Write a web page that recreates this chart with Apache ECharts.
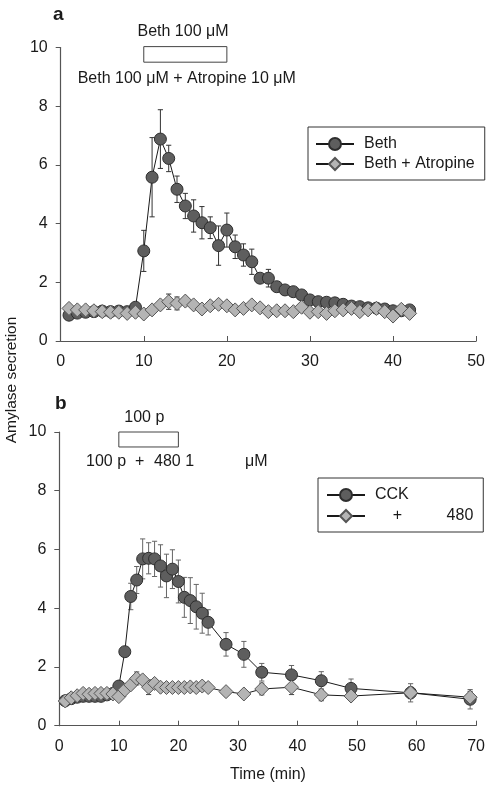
<!DOCTYPE html>
<html><head><meta charset="utf-8">
<script src="https://cdn.jsdelivr.net/npm/echarts@6/dist/echarts.min.js"></script>
<style>html,body{margin:0;padding:0;background:#fff}#c{width:488px;height:785px}</style>
</head><body><div id="c"></div>
<script>
// Panel a
const timeA = [1,2,3,4,5,6,7,8,9,10,11,12,13,14,15,16,17,18,19,20,21,22,23,24,25,26,27,28,29,30,31,32,33,34,35,36,37,38,39,40,41,42];
const bethVals = [0.88,0.95,0.98,1.0,1.02,1.0,1.02,1.0,1.15,3.07,5.58,6.88,6.22,5.17,4.6,4.26,4.03,3.86,3.25,3.78,3.21,2.93,2.7,2.14,2.14,1.85,1.74,1.68,1.57,1.4,1.34,1.32,1.3,1.25,1.19,1.17,1.13,1.12,1.09,1.03,1.03,1.06];
const bethErr = [0,0,0,0,0,0,0,0,0,0.7,1.35,1.0,0.45,0.45,0.43,0.55,0.55,0.37,0.67,0.58,0.4,0.38,0.43,0.1,0.3,0,0,0,0,0,0,0,0,0,0,0,0,0,0,0,0,0];
const atroVals = [1.11,1.06,1.06,1.03,1.0,0.98,0.98,0.94,0.98,0.92,1.06,1.23,1.34,1.28,1.36,1.23,1.09,1.2,1.25,1.2,1.06,1.11,1.23,1.13,1.0,1.03,1.03,1.0,1.15,0.98,1.0,0.94,1.03,1.06,1.11,1.0,1.06,1.11,1.0,0.85,1.08,0.94];
const atroErr = [0,0,0,0,0,0,0,0,0,0,0,0,0.26,0.22,0,0,0,0,0,0,0,0,0,0,0,0,0,0,0,0,0,0,0,0,0,0,0,0,0,0,0,0];
// Panel b
const timeB = [1,2,3,4,5,6,7,8,9,10,11,12,13,14,15,16,17,18,19,20,21,22,23,24,25,28,31,34,39,44,49,59,69];
const cckVals = [0.85,0.92,0.97,1.0,1.0,1.0,1.0,1.05,1.1,1.35,2.52,4.4,4.96,5.68,5.7,5.68,5.44,5.1,5.33,4.91,4.37,4.26,4.05,3.83,3.52,2.77,2.43,1.82,1.73,1.53,1.27,1.12,0.9];
const cckErr = [0,0,0,0,0,0,0,0,0,0,0,0.45,0.46,0.68,0.53,0.6,0.72,0.74,0.66,0.73,0.68,0.78,0.76,0.68,0.43,0.4,0.44,0.3,0.32,0.31,0.32,0.31,0.33];
const antVals = [0.84,0.95,1.02,1.1,1.07,1.1,1.1,1.1,1.08,0.99,1.22,1.39,1.61,1.56,1.31,1.44,1.31,1.3,1.3,1.3,1.3,1.32,1.3,1.35,1.3,1.16,1.08,1.25,1.31,1.05,1.01,1.12,0.97];
const antErr = [0,0,0,0,0,0,0,0,0,0,0,0,0.22,0,0.25,0,0,0,0,0,0,0,0,0,0,0,0,0.2,0.25,0.2,0.1,0.2,0.2];
// labels
const nameA1 = 'Beth', nameA2 = 'Beth + Atropine';
const nameB1 = 'CCK', nameB2 = '    +          480';
const yTicks = [0,2,4,6,8,10];

const FONT = 'Liberation Sans, Arial, sans-serif';
const pairs = (xs, ys) => xs.map((x,i)=>[x, ys[i]]);
const triples = (xs, ys, es) => xs.map((x,i)=>[x, ys[i], es[i]]);

function errSeries(xi, data, color){
  return {
    type:'custom', xAxisIndex:xi, yAxisIndex:xi, z:1, silent:true,
    encode:{x:0,y:1},
    data:data,
    renderItem:function(params, api){
      const x=api.value(0), y=api.value(1), e=api.value(2);
      if(!e) return null;
      const t=api.coord([x,y+e]), b=api.coord([x,y-e]);
      const hw=2.6, st={stroke:color,lineWidth:1};
      return {type:'group',children:[
        {type:'line',shape:{x1:t[0],y1:t[1],x2:b[0],y2:b[1]},style:st},
        {type:'line',shape:{x1:t[0]-hw,y1:t[1],x2:t[0]+hw,y2:t[1]},style:st},
        {type:'line',shape:{x1:b[0]-hw,y1:b[1],x2:b[0]+hw,y2:b[1]},style:st}
      ]};
    }
  };
}
function lineSeries(name, xi, data, symbol, fill, border, size){
  return {
    name:name, type:'line', xAxisIndex:xi, yAxisIndex:xi, z:3,
    data:data, symbol:symbol, symbolSize:size, showAllSymbol:true,
    lineStyle:{color:'#1a1a1a',width:1},
    itemStyle:{color:fill,borderColor:border,borderWidth:1},
    emphasis:{disabled:true}, animation:false
  };
}
const axisCommon = {
  axisLine:{lineStyle:{color:'#555',width:1.2}},
  axisLabel:{color:'#1a1a1a',fontSize:16,fontFamily:FONT,margin:13},
  splitLine:{show:false}
};
function xAx(gi, max){
  return Object.assign({}, axisCommon, {type:'value',gridIndex:gi,min:0,max:max,interval:10,
    axisTick:{show:true,inside:true,length:5,lineStyle:{color:'#555'}}});
}
function yAx(gi){
  return Object.assign({}, axisCommon, {type:'value',gridIndex:gi,min:yTicks[0],max:yTicks[yTicks.length-1],interval:2,
    axisTick:{show:true,inside:false,length:5,lineStyle:{color:'#555'}}});
}
const legendCommon = {
  orient:'vertical', borderColor:'#333', borderWidth:1, itemWidth:38, itemHeight:15, itemGap:4,
  textStyle:{fontSize:16,fontFamily:FONT,color:'#1a1a1a',lineHeight:16,padding:[0,0,0,5]},
  selectedMode:false, backgroundColor:'#fff'
};

const chart = echarts.init(document.getElementById('c'), null, {renderer:'canvas'});
const option = {
  animation:false,
  grid:[
    {left:60.7, top:47.5, width:417.3, height:293.5},
    {left:59.3, top:432, width:418.7, height:293.7}
  ],
  xAxis:[xAx(0,50), xAx(1,70)],
  yAxis:[yAx(0), yAx(1)],
  legend:[
    Object.assign({}, legendCommon, {data:[nameA1,nameA2], left:308, top:127, padding:[9,10,8,7]}),
    Object.assign({}, legendCommon, {data:[nameB1,nameB2], left:318, top:478, padding:[9,10,8,8], itemGap:5})
  ],
  series:[
    errSeries(0, triples(timeA,bethVals,bethErr), '#333'),
    errSeries(0, triples(timeA,atroVals,atroErr), '#333'),
    lineSeries(nameA1, 0, pairs(timeA,bethVals), 'circle', '#5e5e5e', '#2e2e2e', 12),
    lineSeries(nameA2, 0, pairs(timeA,atroVals), 'diamond', '#b4b4b4', '#555', 14),
    errSeries(1, triples(timeB,cckVals,cckErr), '#666'),
    errSeries(1, triples(timeB,antVals,antErr), '#444'),
    lineSeries(nameB1, 1, pairs(timeB,cckVals), 'circle', '#5e5e5e', '#2e2e2e', 12),
    lineSeries(nameB2, 1, pairs(timeB,antVals), 'diamond', '#b4b4b4', '#555', 14)
  ]
};
chart.setOption(option);

const a1 = chart.convertToPixel({gridIndex:0},[10,10.03]);
const a2 = chart.convertToPixel({gridIndex:0},[20,9.5]);
const b1 = chart.convertToPixel({gridIndex:1},[10,10.0]);
const b2 = chart.convertToPixel({gridIndex:1},[20,9.49]);
const txt = (x,y,text,extra)=>Object.assign({type:'text',x:x,y:y,style:Object.assign({text:text,fontSize:16,fontFamily:FONT,fill:'#1a1a1a',textVerticalAlign:'middle'},extra||{})});
chart.setOption({graphic:[
  {type:'rect',shape:{x:a1[0],y:a1[1],width:a2[0]-a1[0],height:a2[1]-a1[1]},style:{fill:'#fff',stroke:'#444',lineWidth:1}},
  {type:'rect',shape:{x:b1[0],y:b1[1],width:b2[0]-b1[0],height:b2[1]-b1[1]},style:{fill:'#fff',stroke:'#444',lineWidth:1}},
  txt(53,15,'a',{fontWeight:'bold',fontSize:19}),
  txt(55,404,'b',{fontWeight:'bold',fontSize:19}),
  txt(183,32,'Beth 100 \u03bcM',{textAlign:'center'}),
  txt(77.7,79,'Beth 100 \u03bcM + Atropine 10 \u03bcM'),
  txt(124.3,418,'100 p'),
  txt(86,462,'100 p  +'),
  txt(154,462,'480 1'),
  txt(245,462,'\u03bcM'),
  {type:'text',x:12,y:380,rotation:Math.PI/2,style:{text:'Amylase secretion',fontSize:15.5,fontFamily:FONT,fill:'#1a1a1a',textAlign:'center',textVerticalAlign:'middle'}},
  txt(268,775,'Time (min)',{textAlign:'center'})
]});
</script></body></html>
